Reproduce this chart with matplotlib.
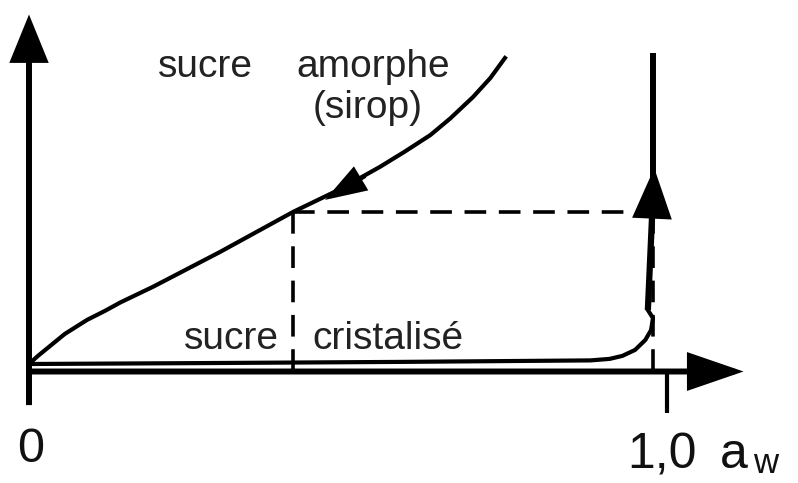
import numpy as np
import matplotlib
matplotlib.use('Agg')
import matplotlib.pyplot as plt
from matplotlib.patches import FancyArrowPatch

# isotherme du sucre amorphe (sirop)
amorph_aw = [0.0, 0.014, 0.033, 0.056, 0.091, 0.119, 0.143, 0.194, 0.299, 0.414,
             0.487, 0.550, 0.589, 0.629, 0.660, 0.696, 0.723, 0.746]
amorph_w = [0.0, 0.027, 0.060, 0.100, 0.147, 0.177, 0.205, 0.257, 0.373, 0.507,
            0.582, 0.657, 0.708, 0.763, 0.818, 0.890, 0.953, 1.020]

# sucre cristallisé
cristal_aw = [0.0, 0.268, 0.582, 0.880, 0.910, 0.930, 0.950, 0.966, 0.975, 0.978, 0.970]
cristal_w = [0.0, 0.003, 0.007, 0.012, 0.017, 0.027, 0.047, 0.080, 0.113, 0.153, 0.180]

aw_eq, w_eq = 0.414, 0.507     # point d'équilibre (pointillés)
aw_sat = 0.978                 # dissolution du cristal
w_sat_top = 1.037
cristal_tip = (0.980, 0.653)
amorph_arrow = [(0.527, 0.627), (0.464, 0.547)]

FONT = ['Liberation Sans', 'DejaVu Sans']

fig = plt.figure(figsize=(7.98, 4.83), dpi=100)
ax = fig.add_axes([0, 0, 1, 1])
ax.set_xlim(-29 / 638, 769 / 638)
ax.set_ylim(-119 / 300, 364 / 300)
ax.axis('off')


def arrow(p0, p1, lw, hl, hw):
    a = FancyArrowPatch(p0, p1, arrowstyle='-|>,head_length=%g,head_width=%g' % (hl, hw),
                        mutation_scale=1, lw=lw, color='k', shrinkA=0, shrinkB=0,
                        joinstyle='miter', capstyle='butt')
    ax.add_patch(a)


# axes
arrow((0, -0.137), (0, 1.165), 4.3, 27, 11)
arrow((0, -0.025), (1.12, -0.025), 4.3, 32, 11)
ax.plot([1.0, 1.0], [-0.025, -0.163], color='k', lw=3, solid_capstyle='butt')

# pointillés
dash = dict(color='k', lw=2.6, dashes=(6, 3.5))
ax.plot([aw_eq, aw_sat], [w_eq, w_eq], **dash)
ax.plot([aw_eq, aw_eq], [w_eq, -0.025], **dash)
ax.plot([aw_sat, aw_sat], [w_eq, -0.025], **dash)

# courbes
ax.plot(amorph_aw, amorph_w, color='k', lw=3, solid_joinstyle='round')
ax.plot(cristal_aw, cristal_w, color='k', lw=3, solid_joinstyle='round')
ax.plot([aw_sat, aw_sat], [0.62, w_sat_top], color='k', lw=4.3, solid_capstyle='butt')

arrow((cristal_aw[-1], cristal_w[-1]), cristal_tip, 4.5, 28, 11)
arrow(amorph_arrow[0], amorph_arrow[1], 3, 24, 8)

# textes
tk = dict(family=FONT, fontsize=28, color='#222222', va='baseline', ha='center')
ax.text(0.277, 0.957, 'sucre', **tk)
ax.text(0.539, 0.957, 'amorphe', **tk)
ax.text(0.530, 0.820, '(sirop)', **tk)
ax.text(0.318, 0.050, 'sucre', **tk)
ax.text(0.562, 0.050, 'cristalisé', **tk)

big = dict(family=FONT, color='#111111', va='baseline')
ax.text(0.002, -0.327, '0', fontsize=35, ha='center', **big)
ax.text(0.938, -0.347, '1,0', fontsize=36, ha='left', **big)
ax.text(1.083, -0.347, 'a', fontsize=36, ha='left', **big)
ax.text(1.135, -0.362, 'w', fontsize=25, ha='left', **big)

fig.savefig('out.png', dpi=100)
